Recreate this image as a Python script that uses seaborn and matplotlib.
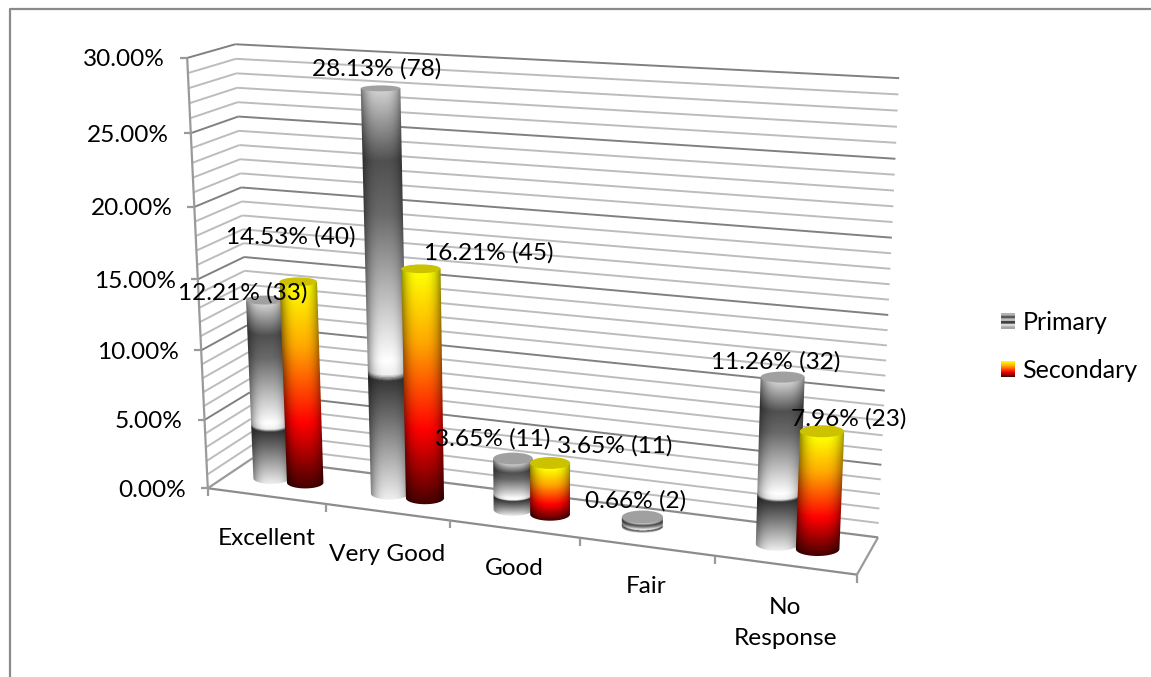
import numpy as np
import pandas as pd
import matplotlib
matplotlib.use("Agg")
import matplotlib.pyplot as plt
from matplotlib.colors import LinearSegmentedColormap
from matplotlib.patches import Ellipse, PathPatch
from matplotlib.path import Path
import seaborn as sns

categories = ["Excellent", "Very Good", "Good", "Fair", "No\nResponse"]
# heights as drawn; the first primary bar stands a bit higher than its label says
primary_pct = [13.0, 28.13, 3.65, 0.66, 11.26]
secondary_pct = [14.53, 16.21, 3.65, 0.0, 7.96]
primary_labels = ["12.21% (33)", "28.13% (78)", "3.65% (11)", "0.66% (2)", "11.26% (32)"]
secondary_labels = ["14.53% (40)", "16.21% (45)", "3.65% (11)", "", "7.96% (23)"]
y_ticks = [0, 5, 10, 15, 20, 25, 30]

# layout of the 3d box: (category pos, depth, percent) -> image pixel
BOX_POINTS = [
    ((0, 0, 0), (208, 487)), ((5, 0, 0), (857, 575)),
    ((0, 1, 0), (252, 459)), ((5, 1, 0), (878, 537)),
    ((0, 0, 30), (187, 58)), ((0, 1, 30), (236, 44)), ((5, 1, 30), (899, 78)),
    ((1, 0, 0), (327, 504)), ((4, 0, 0), (715, 556)),
    ((0, 0, 15), (197, 280)),
]
BAR_DEPTH = 0.5
RADIUS_U = 0.155
RADIUS_V = 0.19
# label offsets from the top of each bar, pixels (they were placed by hand)
PRIMARY_OFFSET = [(-22, -11), (-4, -24), (-20, -24), (-7, -20), (-7, -19)]
SECONDARY_OFFSET = [(-8, -49), (68, -20), (65, -21), (0, 0), (27, -16)]
XLABEL_DROP = [31.5, 31.5, 29, 29, 31.5]

sns.set_style("white")
plt.rcParams["font.family"] = ["Lato", "DejaVu Sans"]
FONT = 17.6

df = pd.DataFrame({
    "category": categories * 2,
    "pct": primary_pct + secondary_pct,
    "series": ["Primary"] * 5 + ["Secondary"] * 5,
})

fig = plt.figure(figsize=(11.51, 6.77), dpi=100, facecolor="white")
ax = fig.add_axes([0, 0, 1, 1])
sns.barplot(data=df, x="category", y="pct", hue="series", width=0.58, ax=ax, legend=False)
ax.set_axis_off()

canvas = fig.add_axes([0, 0, 1, 1], facecolor="none")
canvas.set_axis_off()


def fit_camera(points):
    rows, rhs = [], []
    for (u, v, w), (x, y) in points:
        rows.append([u, v, w, 1, 0, 0, 0, 0, -x * u, -x * v, -x * w])
        rhs.append(x)
        rows.append([0, 0, 0, 0, u, v, w, 1, -y * u, -y * v, -y * w])
        rhs.append(y)
    m = np.linalg.lstsq(np.array(rows, float), np.array(rhs, float), rcond=None)[0]
    return np.append(m, 1.0).reshape(3, 4)


CAM = fit_camera(BOX_POINTS)


def proj(u, v, w):
    p = CAM @ np.array([u, v, w, 1.0])
    return p[:2] / p[2]


def line(a, b, color, lw=1.4):
    canvas.plot([a[0], b[0]], [a[1], b[1]], color=color, lw=lw, solid_capstyle="butt", zorder=1)


# gridlines, one per percent, darker every 5
for w in range(1, 31):
    col = "#808080" if w % 5 == 0 else "#bcbcbc"
    line(proj(0, 0, w), proj(0, 1, w), col)
    line(proj(0, 1, w), proj(5, 1, w), col)

# floor and axis
axis_col = "#9a9a9a"
line(proj(0, 0, 0), proj(0, 0, 30), axis_col, 1.6)
line(proj(0, 0, 0), proj(5, 0, 0), "#8c8c8c", 1.6)
line(proj(0, 0, 0), proj(0, 1, 0), axis_col, 1.6)
line(proj(5, 0, 0), proj(5, 1, 0), axis_col, 1.6)
line(proj(0, 1, 0), proj(5, 1, 0), "#8c8c8c", 1.6)
for i in range(6):
    p = proj(i, 0, 0)
    line(p, p + [0, 8], axis_col, 1.6)

for t in y_ticks:
    p = proj(0, 0, t)
    line(p, p + [-7, 0], axis_col, 1.6)
    canvas.text(p[0] - 22, p[1] + 2, f"{t:.2f}%", ha="right", va="center", fontsize=FONT, color="black", zorder=6)

for i, name in enumerate(categories):
    p = proj(i + 0.5, 0, 0)
    canvas.text(p[0], p[1] + XLABEL_DROP[i], name, ha="center", va="top", fontsize=FONT, color="black",
                linespacing=1.62, zorder=6)

grey_cmap = LinearSegmentedColormap.from_list("grey3d", [
    (0.0, "#cfcfcf"), (0.17, "#505050"), (0.30, "#6a6a6a"), (0.66, "#ffffff"),
    (0.695, "#f0f0f0"), (0.71, "#383838"), (0.80, "#6e6e6e"), (1.0, "#efefef")])
fire_cmap = LinearSegmentedColormap.from_list("fire3d", [
    (0.0, "#ffff00"), (0.30, "#ffa800"), (0.68, "#ff0000"), (0.85, "#a00000"), (1.0, "#450000")])


def draw_cylinder(u, value, cmap, cap_col, z):
    top = proj(u, BAR_DEPTH, value)
    bot = proj(u, BAR_DEPTH, 0)
    r_top = abs(proj(u + RADIUS_U, BAR_DEPTH, value)[0] - top[0])
    r_bot = abs(proj(u + RADIUS_U, BAR_DEPTH, 0)[0] - bot[0])
    e_top = abs(proj(u, BAR_DEPTH + RADIUS_V, value)[1] - top[1])
    e_bot = abs(proj(u, BAR_DEPTH + RADIUS_V, 0)[1] - bot[1])

    ang = np.linspace(0, np.pi, 40)
    outline = np.column_stack([bot[0] + r_bot * np.cos(ang), bot[1] + e_bot * np.sin(ang)])
    outline = np.vstack([outline, [top[0] - r_top, top[1]], [top[0] + r_top, top[1]], outline[:1]])
    clip = PathPatch(Path(outline), transform=canvas.transData, facecolor="none", edgecolor="none")
    canvas.add_patch(clip)

    x0 = min(top[0] - r_top, bot[0] - r_bot) - 1
    x1 = max(top[0] + r_top, bot[0] + r_bot) + 1
    y0, y1 = top[1] - 1, bot[1] + e_bot + 1
    xs = np.arange(x0, x1, 0.5)
    ys = np.arange(y0, y1, 0.5)
    px, py = np.meshgrid(xs, ys)
    f = (py - top[1]) / max(bot[1] - top[1], 1)
    cx = top[0] + (bot[0] - top[0]) * f
    rr = r_top + (r_bot - r_top) * f
    ee = e_top + (e_bot - e_top) * f
    xn = np.clip((px - cx) / rr, -1, 1)
    t = np.clip((py - ee * np.sqrt(1 - xn ** 2) - top[1]) / max(bot[1] - top[1], 1), 0, 1)
    rgb = cmap(t)[..., :3] * (1 - 0.42 * np.abs(xn) ** 3)[..., None]
    im = canvas.imshow(rgb, extent=(x0, x1, y1, y0), aspect="auto", interpolation="bilinear", zorder=z)
    im.set_clip_path(clip)
    canvas.add_patch(Ellipse(top, 2 * r_top, 2 * e_top, facecolor=cap_col, edgecolor="none", zorder=z + 0.1))
    return top


styles = [(grey_cmap, "#a0a0a0"), (fire_cmap, "#cdc200")]
offsets = [PRIMARY_OFFSET, SECONDARY_OFFSET]
labels = [primary_labels, secondary_labels]
for s, cont in enumerate(ax.containers):
    for i, bar in enumerate(cont.patches):
        bar.set_visible(False)
        h = bar.get_height()
        if not h > 0:
            continue
        u = bar.get_x() + bar.get_width() / 2 + 0.5
        top = draw_cylinder(u, h, styles[s][0], styles[s][1], 2 + i + s * 0.5)
        dx, dy = offsets[s][i]
        canvas.text(top[0] + dx, top[1] + dy + 4, labels[s][i], ha="center", va="center",
                    fontsize=FONT, color="black", zorder=10)

# legend
swatch_grey = np.array([0.7, 0.35, 0.75, 0.25, 0.85, 0.65])
swatch_fire = np.linspace(0, 1, 30)
canvas.imshow(np.repeat(swatch_grey, 3)[:, None], cmap="gray", vmin=0, vmax=1, extent=(1001, 1015, 329, 313),
              aspect="auto", interpolation="bilinear", zorder=5)
canvas.imshow(fire_cmap(swatch_fire)[:, None, :3], extent=(1001, 1015, 377, 361), aspect="auto",
              interpolation="bilinear", zorder=5)
canvas.text(1023, 322, "Primary", ha="left", va="center", fontsize=18, color="black")
canvas.text(1022, 370, "Secondary", ha="left", va="center", fontsize=18, color="black")

# chart area border, only top and left are in view
canvas.plot([1151, 10, 10], [9, 9, 677], color="#8a8a8a", lw=1.6, zorder=1)

canvas.set_xlim(0, 1151)
canvas.set_ylim(677, 0)

fig.savefig("out.png", dpi=100, facecolor="white")
